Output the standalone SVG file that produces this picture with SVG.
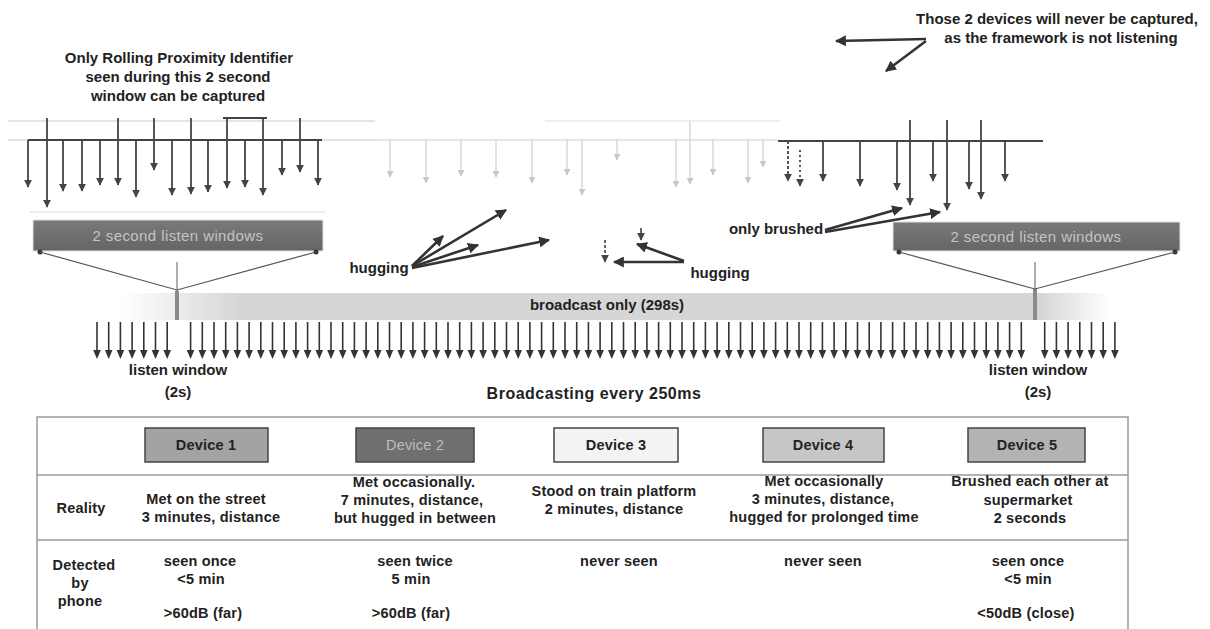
<svg xmlns="http://www.w3.org/2000/svg" xmlns:xlink="http://www.w3.org/1999/xlink" width="1210" height="629" viewBox="0 0 1210 629">
<style>
text{font-family:"Liberation Sans",Arial,sans-serif;font-weight:bold;fill:#222;text-anchor:middle;}
.t15{font-size:15px;}
.t14{font-size:14.5px;letter-spacing:0.2px;}
.win{font-size:15px;font-weight:normal;fill:#c4c4c4;letter-spacing:0.4px;}
.dk{stroke:#444;stroke-width:1.8;fill:none;}
.lt{stroke:#d0d0d0;stroke-width:1.2;fill:none;}
.thick{stroke:#333;stroke-width:2.6;fill:none;}
.grid{stroke:#9a9a9a;stroke-width:1.5;fill:none;}
.dev{stroke:#444;stroke-width:1.5;}
</style>
<defs>
<marker id="hd" viewBox="0 0 10 10" refX="9" refY="5" markerWidth="8" markerHeight="8" markerUnits="userSpaceOnUse" orient="auto"><path d="M0,0 L10,5 L0,10 Z" fill="#444"/></marker>
<marker id="hl" viewBox="0 0 10 10" refX="9" refY="5" markerWidth="7" markerHeight="7" markerUnits="userSpaceOnUse" orient="auto"><path d="M0,0 L10,5 L0,10 Z" fill="#c8c8c8"/></marker>
<marker id="hb" viewBox="0 0 10 10" refX="9" refY="5" markerWidth="11" markerHeight="11" markerUnits="userSpaceOnUse" orient="auto"><path d="M0,0 L10,5 L0,10 Z" fill="#333"/></marker>
<g id="ba"><line x1="0" y1="322" x2="0" y2="352" stroke="#333" stroke-width="1.6"/><path d="M-3.8,350 L3.8,350 L0,359 Z" fill="#333"/></g>
<linearGradient id="band" x1="0" y1="0" x2="1" y2="0">
<stop offset="0" stop-color="#d6d6d6" stop-opacity="0"/>
<stop offset="0.12" stop-color="#d6d6d6" stop-opacity="1"/>
<stop offset="0.93" stop-color="#d6d6d6" stop-opacity="1"/>
<stop offset="1" stop-color="#d6d6d6" stop-opacity="0"/>
</linearGradient>
<linearGradient id="win" x1="0" y1="0" x2="0" y2="1">
<stop offset="0" stop-color="#7a7a7a"/>
<stop offset="1" stop-color="#656565"/>
</linearGradient>
</defs>
<rect width="1210" height="629" fill="#ffffff"/>

<g id="note-left">
<text class="t15" x="179" y="63">Only Rolling Proximity Identifier</text>
<text class="t15" x="178" y="82">seen during this 2 second</text>
<text class="t15" x="178" y="101">window can be captured</text>
</g>
<g id="note-right">
<text class="t15" x="1057" y="24">Those 2 devices will never be captured,</text>
<text class="t15" x="1061" y="43">as the framework is not listening</text>
</g>

<g id="listen-bar-left">
<line x1="30" y1="212" x2="325" y2="212" stroke="#ececec" stroke-width="2"/>
<rect x="33" y="220" width="290" height="31" fill="url(#win)" stroke="#e2e2e2" stroke-width="1"/>
<text class="win" x="178" y="241">2 second listen windows</text>
<circle cx="40" cy="252" r="2.5" fill="#333"/>
<circle cx="316" cy="252" r="2.5" fill="#333"/>
</g>
<g id="listen-bar-right">
<rect x="893" y="222" width="287" height="29" fill="url(#win)" stroke="#e2e2e2" stroke-width="1"/>
<text class="win" x="1036" y="242">2 second listen windows</text>
<circle cx="899" cy="252" r="2.5" fill="#333"/>
<circle cx="1175" cy="252" r="2.5" fill="#333"/>
</g>

<g id="broadcast-band">
<rect x="120" y="293" width="990" height="27" fill="url(#band)"/>
<text class="t15" x="607" y="310">broadcast only (298s)</text>
</g>

<g id="listen-marker-left">
<line x1="177" y1="262" x2="177" y2="292" stroke="#777" stroke-width="1.2"/>
<line x1="177" y1="291" x2="177" y2="320" stroke="#8a8a8a" stroke-width="4"/>
<text class="t15" x="178" y="375">listen window</text>
<text class="t15" x="178" y="397">(2s)</text>
</g>
<g id="listen-marker-right">
<line x1="1035" y1="262" x2="1035" y2="290" stroke="#777" stroke-width="1.2"/>
<line x1="1035" y1="289" x2="1035" y2="320" stroke="#8a8a8a" stroke-width="4"/>
<text class="t15" x="1038" y="375">listen window</text>
<text class="t15" x="1038" y="397">(2s)</text>
</g>

<g id="label-broadcasting">
<text x="594" y="399" style="font-size:16px;letter-spacing:0.5px">Broadcasting every 250ms</text>
</g>
<g id="label-hugging-left"><text class="t15" x="379" y="273">hugging</text></g>
<g id="label-hugging-right"><text class="t15" x="720" y="278">hugging</text></g>
<g id="label-brushed"><text class="t15" x="776" y="234">only brushed</text></g>

<g id="connectors">
<line x1="8" y1="121" x2="375" y2="121" stroke="#e4e4e4" stroke-width="2"/>
<line x1="8" y1="140" x2="375" y2="140" stroke="#e4e4e4" stroke-width="2"/>
<line x1="28" y1="140" x2="322" y2="140" class="dk"/>
<line x1="223" y1="118" x2="267" y2="118" class="dk"/>
<line x1="28" y1="140" x2="28" y2="187" class="dk" marker-end="url(#hd)"/>
<line x1="47" y1="118" x2="47" y2="207" class="dk" marker-end="url(#hd)"/>
<line x1="63" y1="140" x2="63" y2="191" class="dk" marker-end="url(#hd)"/>
<line x1="82" y1="140" x2="82" y2="191" class="dk" marker-end="url(#hd)"/>
<line x1="100" y1="140" x2="100" y2="185" class="dk" marker-end="url(#hd)"/>
<line x1="118" y1="118" x2="118" y2="185" class="dk" marker-end="url(#hd)"/>
<line x1="136" y1="140" x2="136" y2="197" class="dk" marker-end="url(#hd)"/>
<line x1="154" y1="118" x2="154" y2="170" class="dk" marker-end="url(#hd)"/>
<line x1="172" y1="140" x2="172" y2="195" class="dk" marker-end="url(#hd)"/>
<line x1="191" y1="118" x2="191" y2="194" class="dk" marker-end="url(#hd)"/>
<line x1="208" y1="140" x2="208" y2="192" class="dk" marker-end="url(#hd)"/>
<line x1="227" y1="118" x2="227" y2="188" class="dk" marker-end="url(#hd)"/>
<line x1="245" y1="140" x2="245" y2="187" class="dk" marker-end="url(#hd)"/>
<line x1="263" y1="118" x2="263" y2="195" class="dk" marker-end="url(#hd)"/>
<line x1="282" y1="140" x2="282" y2="175" class="dk" marker-end="url(#hd)"/>
<line x1="300" y1="118" x2="300" y2="172" class="dk" marker-end="url(#hd)"/>
<line x1="318" y1="140" x2="318" y2="185" class="dk" marker-end="url(#hd)"/>
<line x1="375" y1="140" x2="778" y2="140" stroke="#e6e6e6" stroke-width="2"/>
<line x1="545" y1="121" x2="780" y2="121" stroke="#eeeeee" stroke-width="2"/>
<line x1="390" y1="140" x2="390" y2="177" class="lt" marker-end="url(#hl)"/>
<line x1="426" y1="140" x2="426" y2="183" class="lt" marker-end="url(#hl)"/>
<line x1="461" y1="140" x2="461" y2="176" class="lt" marker-end="url(#hl)"/>
<line x1="496" y1="140" x2="496" y2="177" class="lt" marker-end="url(#hl)"/>
<line x1="532" y1="140" x2="532" y2="183" class="lt" marker-end="url(#hl)"/>
<line x1="567" y1="140" x2="567" y2="175" class="lt" marker-end="url(#hl)"/>
<line x1="582" y1="140" x2="582" y2="195" class="lt" marker-end="url(#hl)"/>
<line x1="617" y1="140" x2="617" y2="160" class="lt" marker-end="url(#hl)"/>
<line x1="676" y1="140" x2="676" y2="187" class="lt" marker-end="url(#hl)"/>
<line x1="690" y1="121" x2="690" y2="184" class="lt" marker-end="url(#hl)"/>
<line x1="713" y1="140" x2="713" y2="175" class="lt" marker-end="url(#hl)"/>
<line x1="748" y1="140" x2="748" y2="183" class="lt" marker-end="url(#hl)"/>
<line x1="763" y1="140" x2="763" y2="167" class="lt" marker-end="url(#hl)"/>
<line x1="778" y1="141" x2="1043" y2="141" class="dk"/>
<line x1="788" y1="141" x2="788" y2="181" class="dk" stroke-dasharray="3 2" marker-end="url(#hd)"/>
<line x1="800" y1="150" x2="800" y2="186" class="dk" stroke-dasharray="2 3" marker-end="url(#hd)"/>
<line x1="823" y1="141" x2="823" y2="181" class="dk" marker-end="url(#hd)"/>
<line x1="860" y1="141" x2="860" y2="186" class="dk" marker-end="url(#hd)"/>
<line x1="897" y1="141" x2="897" y2="190" class="dk" marker-end="url(#hd)"/>
<line x1="910" y1="120" x2="910" y2="205" class="dk" marker-end="url(#hd)"/>
<line x1="933" y1="141" x2="933" y2="181" class="dk" marker-end="url(#hd)"/>
<line x1="947" y1="120" x2="947" y2="210" class="dk" marker-end="url(#hd)"/>
<line x1="969" y1="141" x2="969" y2="189" class="dk" marker-end="url(#hd)"/>
<line x1="981" y1="120" x2="981" y2="199" class="dk" marker-end="url(#hd)"/>
<line x1="1005" y1="141" x2="1005" y2="181" class="dk" marker-end="url(#hd)"/>
<polyline points="40,252 177,290 316,252" stroke="#555" stroke-width="1.2" fill="none"/>
<polyline points="899,252 1035,289 1175,252" stroke="#555" stroke-width="1.2" fill="none"/>
<line x1="926" y1="39" x2="836" y2="41" class="thick" marker-end="url(#hb)"/>
<line x1="926" y1="41" x2="886" y2="71" class="thick" marker-end="url(#hb)"/>
<line x1="412" y1="266" x2="443" y2="236" class="thick" marker-end="url(#hb)"/>
<line x1="412" y1="266" x2="506" y2="210" class="thick" marker-end="url(#hb)"/>
<line x1="412" y1="267" x2="478" y2="245" class="thick" marker-end="url(#hb)"/>
<line x1="412" y1="268" x2="549" y2="240" class="thick" marker-end="url(#hb)"/>
<line x1="684" y1="261" x2="637" y2="244" class="thick" marker-end="url(#hb)"/>
<line x1="684" y1="262" x2="614" y2="262" class="thick" marker-end="url(#hb)"/>
<line x1="605" y1="240" x2="605" y2="262" stroke="#333" stroke-width="1.5" stroke-dasharray="3 2" marker-end="url(#hd)"/>
<line x1="641" y1="228" x2="641" y2="240" stroke="#333" stroke-width="1.5" marker-end="url(#hd)"/>
<line x1="825" y1="230" x2="902" y2="208" class="thick" marker-end="url(#hb)"/>
<line x1="825" y1="232" x2="940" y2="212" class="thick" marker-end="url(#hb)"/>
<use href="#ba" x="97"/><use href="#ba" x="108.7"/><use href="#ba" x="120.4"/><use href="#ba" x="132.1"/><use href="#ba" x="143.8"/><use href="#ba" x="155.5"/><use href="#ba" x="167.2"/>
<use href="#ba" x="190.6"/><use href="#ba" x="202.3"/><use href="#ba" x="214"/><use href="#ba" x="225.7"/><use href="#ba" x="237.4"/><use href="#ba" x="249.1"/><use href="#ba" x="260.8"/><use href="#ba" x="272.5"/><use href="#ba" x="284.2"/><use href="#ba" x="295.9"/>
<use href="#ba" x="307.6"/><use href="#ba" x="319.3"/><use href="#ba" x="331"/><use href="#ba" x="342.7"/><use href="#ba" x="354.4"/><use href="#ba" x="366.1"/><use href="#ba" x="377.8"/><use href="#ba" x="389.5"/><use href="#ba" x="401.2"/><use href="#ba" x="412.9"/>
<use href="#ba" x="424.6"/><use href="#ba" x="436.3"/><use href="#ba" x="448"/><use href="#ba" x="459.7"/><use href="#ba" x="471.4"/><use href="#ba" x="483.1"/><use href="#ba" x="494.8"/><use href="#ba" x="506.5"/><use href="#ba" x="518.2"/><use href="#ba" x="529.9"/>
<use href="#ba" x="541.6"/><use href="#ba" x="553.3"/><use href="#ba" x="565"/><use href="#ba" x="576.7"/><use href="#ba" x="588.4"/><use href="#ba" x="600.1"/><use href="#ba" x="611.8"/><use href="#ba" x="623.5"/><use href="#ba" x="635.2"/><use href="#ba" x="646.9"/>
<use href="#ba" x="658.6"/><use href="#ba" x="670.3"/><use href="#ba" x="682"/><use href="#ba" x="693.7"/><use href="#ba" x="705.4"/><use href="#ba" x="717.1"/><use href="#ba" x="728.8"/><use href="#ba" x="740.5"/><use href="#ba" x="752.2"/><use href="#ba" x="763.9"/>
<use href="#ba" x="775.6"/><use href="#ba" x="787.3"/><use href="#ba" x="799"/><use href="#ba" x="810.7"/><use href="#ba" x="822.4"/><use href="#ba" x="834.1"/><use href="#ba" x="845.8"/><use href="#ba" x="857.5"/><use href="#ba" x="869.2"/><use href="#ba" x="880.9"/>
<use href="#ba" x="892.6"/><use href="#ba" x="904.3"/><use href="#ba" x="916"/><use href="#ba" x="927.7"/><use href="#ba" x="939.4"/><use href="#ba" x="951.1"/><use href="#ba" x="962.8"/><use href="#ba" x="974.5"/><use href="#ba" x="986.2"/><use href="#ba" x="997.9"/>
<use href="#ba" x="1009.6"/><use href="#ba" x="1021.3"/><use href="#ba" x="1044.7"/><use href="#ba" x="1056.4"/><use href="#ba" x="1068.1"/><use href="#ba" x="1079.8"/><use href="#ba" x="1091.5"/><use href="#ba" x="1103.2"/><use href="#ba" x="1114.9"/>
</g>

<g id="table">
<rect x="37" y="417" width="1091" height="220" fill="none" class="grid"/>
<line x1="37" y1="475" x2="1128" y2="475" class="grid"/>
<line x1="37" y1="540" x2="1128" y2="540" class="grid"/>
<text class="t14" x="81" y="513">Reality</text>
<text class="t14" x="84" y="570">Detected</text>
<text class="t14" x="80" y="588">by</text>
<text class="t14" x="80" y="606">phone</text>
</g>
<g id="device-1">
<rect x="145" y="428" width="123" height="34" fill="#a3a3a3" class="dev"/>
<text class="t14" x="206" y="450">Device 1</text>
<text class="t14" x="206" y="504">Met on the street</text>
<text class="t14" x="211" y="522">3 minutes, distance</text>
<text class="t14" x="200" y="566">seen once</text>
<text class="t14" x="201" y="584">&lt;5 min</text>
<text class="t14" x="203" y="618">&gt;60dB (far)</text>
</g>
<g id="device-2">
<rect x="356" y="428" width="118" height="34" fill="#6f6f6f" class="dev"/>
<text class="t14" x="415" y="450" style="fill:#bdbdbd;font-weight:normal">Device 2</text>
<text class="t14" x="414" y="487">Met occasionally.</text>
<text class="t14" x="412" y="505">7 minutes, distance,</text>
<text class="t14" x="415" y="523">but hugged in between</text>
<text class="t14" x="415" y="566">seen twice</text>
<text class="t14" x="411" y="584">5 min</text>
<text class="t14" x="411" y="618">&gt;60dB (far)</text>
</g>
<g id="device-3">
<rect x="554" y="428" width="124" height="34" fill="#f3f3f3" class="dev"/>
<text class="t14" x="616" y="450">Device 3</text>
<text class="t14" x="614" y="496">Stood on train platform</text>
<text class="t14" x="614" y="514">2 minutes, distance</text>
<text class="t14" x="619" y="566">never seen</text>
</g>
<g id="device-4">
<rect x="763" y="428" width="121" height="34" fill="#c6c6c6" class="dev"/>
<text class="t14" x="823" y="450">Device 4</text>
<text class="t14" x="824" y="486">Met occasionally</text>
<text class="t14" x="823" y="504">3 minutes, distance,</text>
<text class="t14" x="824" y="522">hugged for prolonged time</text>
<text class="t14" x="823" y="566">never seen</text>
</g>
<g id="device-5">
<rect x="968" y="428" width="117" height="34" fill="#b3b3b3" class="dev"/>
<text class="t14" x="1027" y="450">Device 5</text>
<text class="t14" x="1030" y="486">Brushed each other at</text>
<text class="t14" x="1028" y="505">supermarket</text>
<text class="t14" x="1030" y="523">2 seconds</text>
<text class="t14" x="1028" y="566">seen once</text>
<text class="t14" x="1028" y="584">&lt;5 min</text>
<text class="t14" x="1026" y="618">&lt;50dB (close)</text>
</g>
</svg>
